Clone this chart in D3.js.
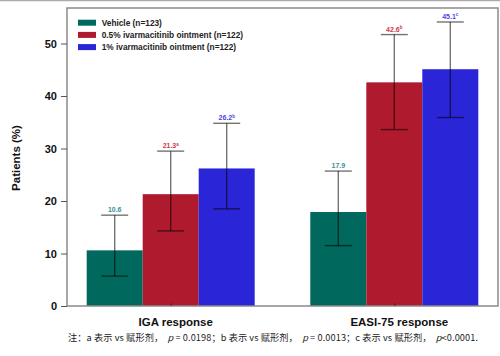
<!DOCTYPE html>
<html><head><meta charset="utf-8">
<script src="https://cdn.jsdelivr.net/npm/d3@7/dist/d3.min.js"></script>
<style>body{margin:0;background:#fff}svg{display:block}</style>
</head><body>
<svg id="c" width="500" height="356"></svg>
<script>
const groups = ["IGA response", "EASI-75 response"];
const series = ["Vehicle (n=123)", "0.5% ivarmacitinib ointment (n=122)", "1% ivarmacitinib ointment (n=122)"];
const values = [[10.6, 21.3, 26.2], [17.9, 42.6, 45.1]];
const errLow = [[5.7, 14.3, 18.5], [11.5, 33.6, 35.9]];
const errHigh = [[17.3, 29.5, 34.8], [25.7, 51.7, 54.1]];
const labels = [["10.6", "21.3", "26.2"], ["17.9", "42.6", "45.1"]];
const sups = [["", "a", "b"], ["", "b", "c"]];
const yTicks = [0, 10, 20, 30, 40, 50];
const colors = ["#00685c", "#b01a2e", "#2a25d6"];
const labelColors = ["#3a8e9c", "#cc3a4a", "#4a46ee"];

const svg = d3.select("#c");
const L = 67, R = 498, T = 8, B = 306;
const y = d3.scaleLinear().domain([0, 50]).range([B, 43.5]);
const x0 = d3.scalePoint().domain(groups).range([170.7, 394.3]);
const x1 = d3.scaleBand().domain(series).range([-84, 84]);

// top gray line
svg.append("line").attr("x1",0).attr("x2",500).attr("y1",0.5).attr("y2",0.5).attr("stroke","#aaa").attr("stroke-width",1.5);

// bars
groups.forEach((g, gi) => {
  series.forEach((s, si) => {
    const bx = x0(g) + x1(s);
    svg.append("rect").attr("x", bx).attr("y", y(values[gi][si]))
      .attr("width", x1.bandwidth()).attr("height", y(0) - y(values[gi][si]))
      .attr("fill", colors[si]);
  });
});
// error bars
groups.forEach((g, gi) => {
  series.forEach((s, si) => {
    const cx = x0(g) + x1(s) + x1.bandwidth() / 2;
    const e = svg.append("g").attr("stroke", "#000").attr("stroke-opacity", 0.55).attr("stroke-width", 1.4);
    e.append("line").attr("x1", cx).attr("x2", cx).attr("y1", y(errHigh[gi][si])).attr("y2", y(errLow[gi][si]));
    e.append("line").attr("x1", cx - 13.5).attr("x2", cx + 13.5).attr("y1", y(errHigh[gi][si])).attr("y2", y(errHigh[gi][si]));
    e.append("line").attr("x1", cx - 13.5).attr("x2", cx + 13.5).attr("y1", y(errLow[gi][si])).attr("y2", y(errLow[gi][si]));
    const t = svg.append("text").attr("x", cx).attr("y", y(errHigh[gi][si]) - 3)
      .attr("text-anchor", "middle").attr("font-family", "Liberation Sans, Arial, sans-serif")
      .attr("font-size", 7).attr("font-weight", "bold").attr("fill", labelColors[si]);
    t.append("tspan").text(labels[gi][si]);
    if (sups[gi][si]) t.append("tspan").attr("font-size", 4.5).attr("dy", -2.5).text(sups[gi][si]);
  });
});

// frame
svg.append("rect").attr("x", L).attr("y", T).attr("width", R - L).attr("height", B - T)
  .attr("fill", "none").attr("stroke", "#8a8a8a").attr("stroke-width", 1.5);

// y axis
const ya = svg.append("g").attr("transform", `translate(${L},0)`)
  .call(d3.axisLeft(y).tickValues(yTicks).tickSize(6).tickPadding(4));
ya.select(".domain").remove();
ya.selectAll(".tick line").attr("stroke", "#555");
ya.selectAll(".tick text").attr("font-family", "Liberation Sans, Arial, sans-serif")
  .attr("font-size", 11).attr("font-weight", "bold").attr("fill", "#111");

// x ticks (inward)
const xa = svg.append("g").attr("transform", `translate(0,${B})`)
  .call(d3.axisBottom(x0).tickSize(-3).tickFormat(""));
xa.select(".domain").remove();
xa.selectAll(".tick line").attr("stroke", "#333");
groups.forEach(g => {
  svg.append("text").attr("x", x0(g) + 5).attr("y", 325.5).attr("text-anchor", "middle")
    .attr("font-family", "Liberation Sans, Arial, sans-serif").attr("font-size", 11.5)
    .attr("font-weight", "bold").attr("fill", "#111").text(g);
});

// y title
svg.append("text").attr("transform", "translate(19.5,158) rotate(-90)").attr("text-anchor", "middle")
  .attr("font-family", "Liberation Sans, Arial, sans-serif").attr("font-size", 11.5)
  .attr("font-weight", "bold").attr("fill", "#111").text("Patients (%)");

// legend
series.forEach((s, si) => {
  const ly = 22.7 + si * 12.2;
  svg.append("rect").attr("x", 78).attr("y", ly - 3).attr("width", 18).attr("height", 6).attr("fill", colors[si]);
  svg.append("text").attr("x", 101.7).attr("y", ly + 3).attr("font-family", "Liberation Sans, Arial, sans-serif")
    .attr("font-size", 8.3).attr("font-weight", "bold").attr("fill", "#222").text(s);
});

// footnote
const fn = svg.append("text").attr("x", 68).attr("y", 340.5)
  .attr("font-family", "Noto Sans CJK SC, sans-serif").attr("font-size", 9.2).attr("fill", "#222")
  .attr("xml:space", "preserve").attr("textLength", 410).attr("lengthAdjust", "spacing");
const parts = [["注：a 表示 vs 赋形剂，  ", false], ["p", true], [" = 0.0198；b 表示 vs 赋形剂，  ", false], ["p", true],
  [" = 0.0013；c 表示 vs 赋形剂，  ", false], ["p", true], ["<0.0001.", false]];
parts.forEach(([t, it]) => fn.append("tspan").attr("font-style", it ? "italic" : "normal").text(t));
</script>
</body></html>
